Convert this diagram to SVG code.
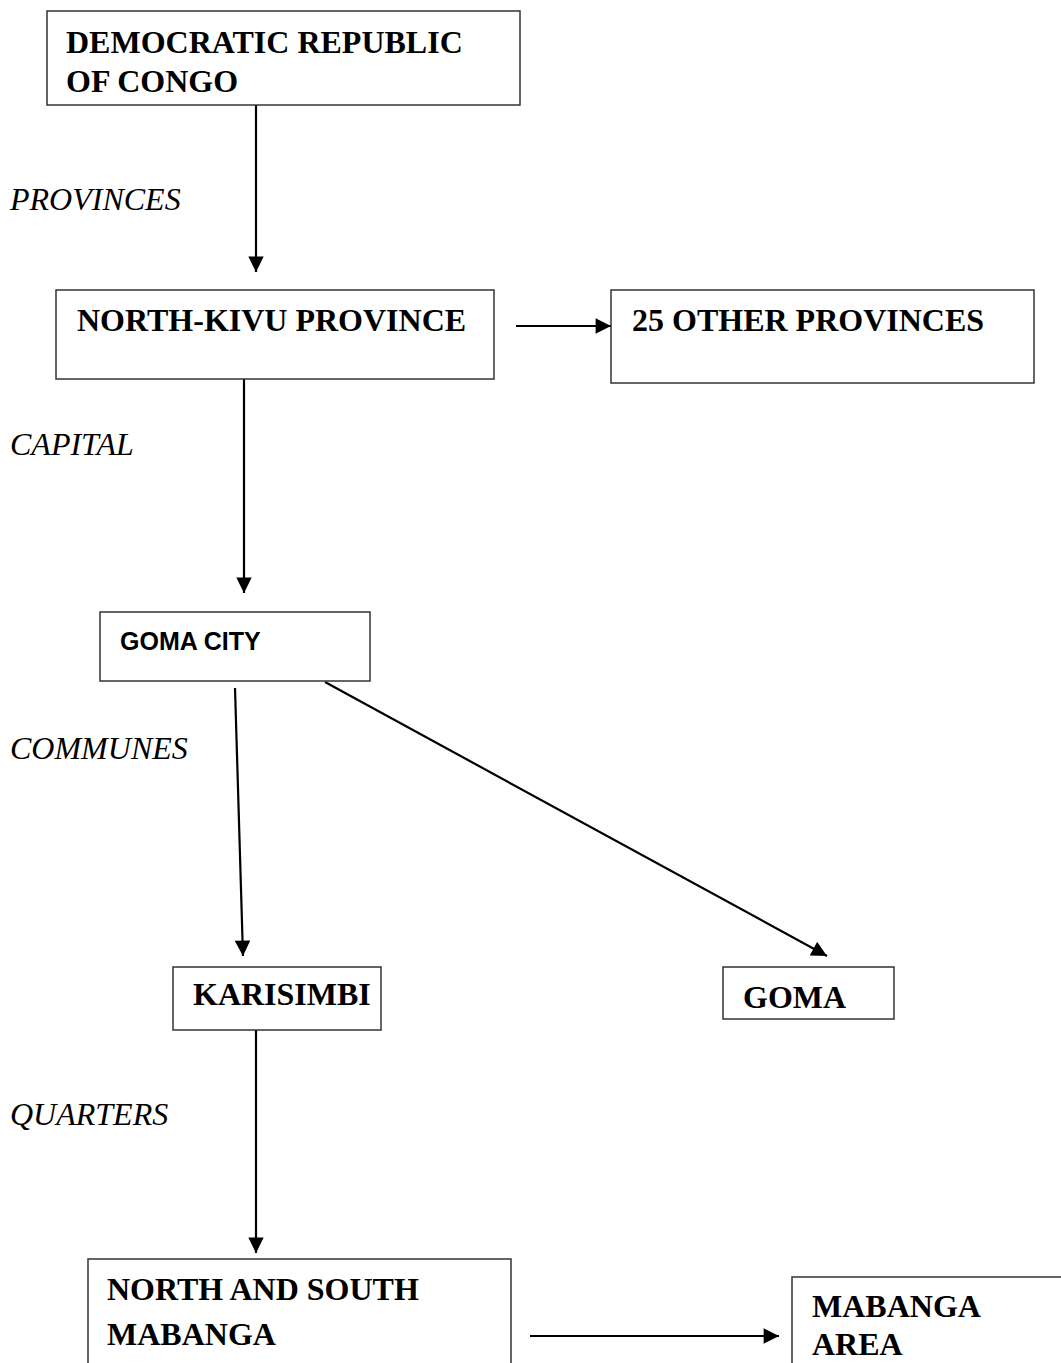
<svg xmlns="http://www.w3.org/2000/svg" width="1061" height="1363" viewBox="0 0 1061 1363">
<style>
.box{fill:#fff;stroke:#333;stroke-width:1.5}
.t{font-family:"Liberation Serif","Times New Roman",serif;font-weight:bold;font-size:32px;fill:#000}
.s{font-family:"Liberation Sans",Arial,sans-serif;font-weight:bold;font-size:25px;fill:#000}
.lbl{font-family:"Liberation Serif","Times New Roman",serif;font-style:italic;font-size:32px;fill:#000}
.c{stroke:#000;stroke-width:2.2;fill:none;marker-end:url(#ah)}
</style>
<defs>
<marker id="ah" viewBox="0 0 10 10" refX="10" refY="5" markerWidth="7.5" markerHeight="7" orient="auto" markerUnits="strokeWidth">
<path d="M0,0 L10,5 L0,10 Z" fill="#000"/>
</marker>
</defs>
<rect width="1061" height="1363" fill="#fff"/>
<g id="connectors">
<line class="c" x1="256" y1="105" x2="256" y2="272"/>
<line class="c" x1="516" y1="326" x2="611" y2="326"/>
<line class="c" x1="244" y1="379" x2="244" y2="593"/>
<line class="c" x1="235" y1="688" x2="243" y2="956"/>
<line class="c" x1="325" y1="682" x2="827" y2="956"/>
<line class="c" x1="256" y1="1030" x2="256" y2="1253"/>
<line class="c" x1="530" y1="1336" x2="779" y2="1336"/>
</g>
<g id="labels">
<text class="lbl" x="10" y="210">PROVINCES</text>
<text class="lbl" x="10" y="455">CAPITAL</text>
<text class="lbl" x="10" y="759">COMMUNES</text>
<text class="lbl" x="10" y="1125">QUARTERS</text>
</g>
<g id="drc">
<rect class="box" x="47" y="11" width="473" height="94"/>
<text class="t" x="66" y="53">DEMOCRATIC REPUBLIC</text>
<text class="t" x="66" y="92">OF CONGO</text>
</g>
<g id="north-kivu">
<rect class="box" x="56" y="290" width="438" height="89"/>
<text class="t" x="77" y="331">NORTH-KIVU PROVINCE</text>
</g>
<g id="other-provinces">
<rect class="box" x="611" y="290" width="423" height="93"/>
<text class="t" x="632" y="331">25 OTHER PROVINCES</text>
</g>
<g id="goma-city">
<rect class="box" x="100" y="612" width="270" height="69"/>
<text class="s" x="120" y="650">GOMA CITY</text>
</g>
<g id="karisimbi">
<rect class="box" x="173" y="967" width="208" height="63"/>
<text class="t" x="193" y="1005">KARISIMBI</text>
</g>
<g id="goma">
<rect class="box" x="723" y="967" width="171" height="52"/>
<text class="t" x="743" y="1008">GOMA</text>
</g>
<g id="north-south-mabanga">
<rect class="box" x="88" y="1259" width="423" height="120"/>
<text class="t" x="107" y="1300">NORTH AND SOUTH</text>
<text class="t" x="107" y="1345">MABANGA</text>
</g>
<g id="mabanga-area">
<rect class="box" x="792" y="1277" width="280" height="100"/>
<text class="t" x="812" y="1317">MABANGA</text>
<text class="t" x="812" y="1355">AREA</text>
</g>
</svg>
